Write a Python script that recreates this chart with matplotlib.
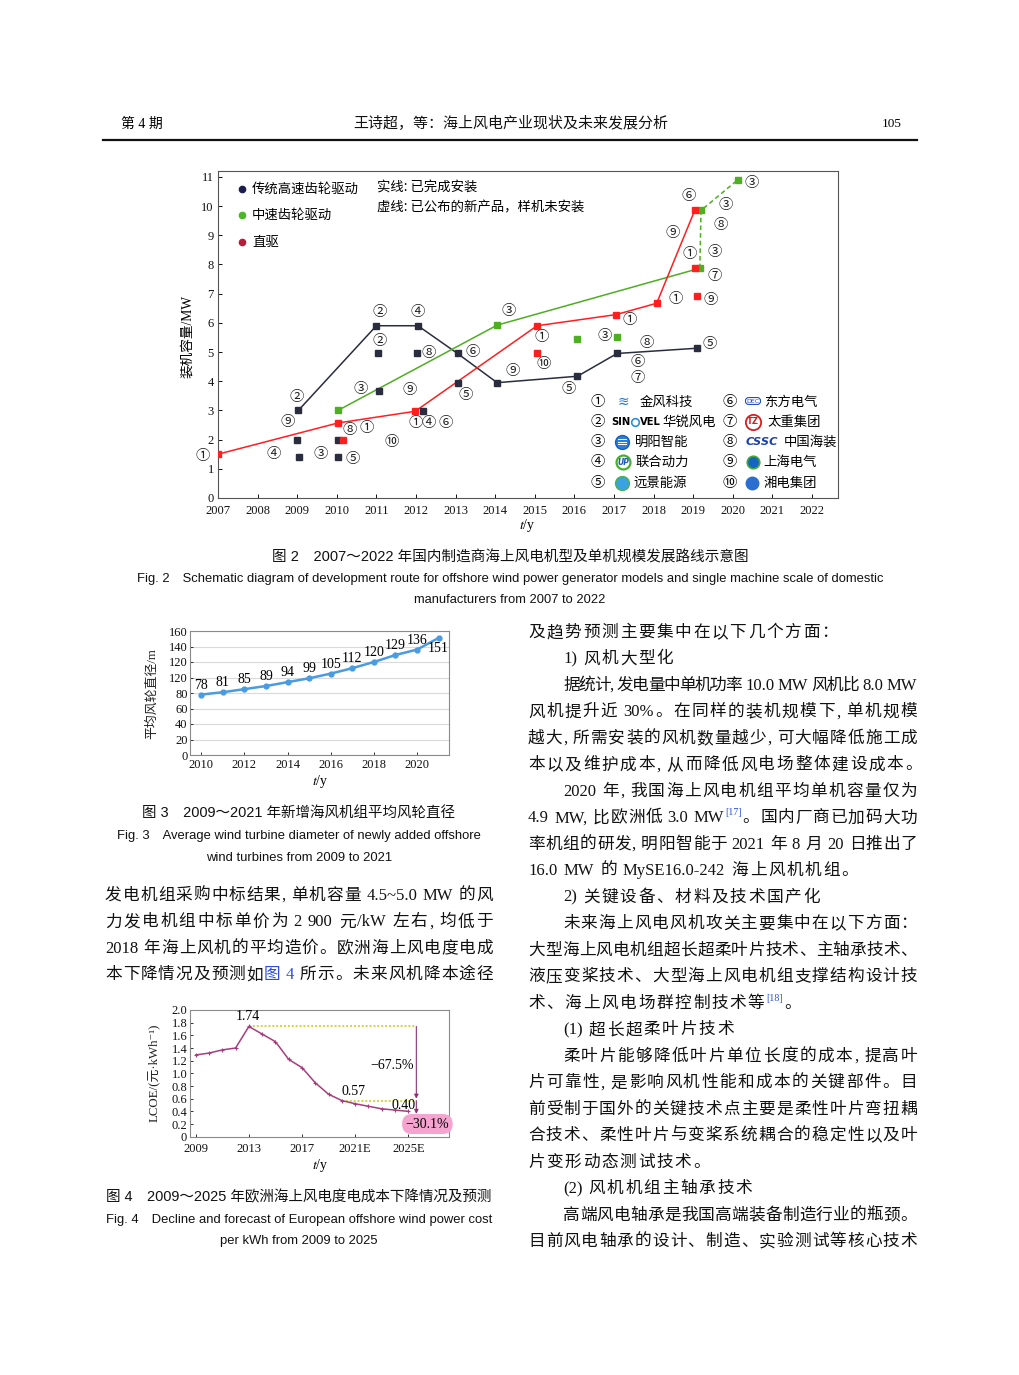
import matplotlib
matplotlib.use("Agg")
import matplotlib.pyplot as plt
from matplotlib import font_manager
from matplotlib.lines import Line2D

W, H = 1020, 1375
CJK = "Noto Sans CJK SC"
SERIF = ["Liberation Serif", CJK, "DejaVu Sans"]
SANS = ["Liberation Sans", CJK, "DejaVu Sans"]
CIRC = [CJK, "DejaVu Sans"]
try:
    font_manager.findfont(font_manager.FontProperties(family="Liberation Sans Narrow"),
                          fallback_to_default=False)
    NARROW = ["Liberation Sans Narrow", CJK]
except Exception:
    NARROW = SANS

plt.rcParams["font.family"] = SERIF
plt.rcParams["mathtext.fontset"] = "stix"

# ---------------- Fig. 2 data: unit rating (MW) by year ----------------
trad_line_year = [2009.03, 2011.0, 2012.05, 2013.05, 2014.05, 2016.08, 2017.08, 2019.1]
trad_line_mw = [3.0, 5.9, 5.9, 4.95, 3.95, 4.17, 4.95, 5.13]
trad_pts_year = [2009.0, 2009.05, 2010.03, 2010.03, 2011.05, 2011.06, 2012.03, 2012.18, 2013.05]
trad_pts_mw = [1.97, 1.42, 1.97, 1.42, 4.98, 3.68, 4.97, 2.97, 3.95]
mid_line_year = [2010.03, 2014.05, 2019.17]
mid_line_mw = [3.0, 5.92, 7.87]
mid_dash_year = [2019.17, 2019.2, 2020.13]
mid_dash_mw = [7.87, 9.85, 10.9]
mid_pts_year = [2016.08, 2017.07]
mid_pts_mw = [5.44, 5.5]
dd_line_year = [2007.0, 2010.03, 2011.98, 2015.06, 2017.05, 2018.08, 2019.05]
dd_line_mw = [1.5, 2.57, 2.97, 5.9, 6.28, 6.67, 9.88]
dd_pts_year = [2010.15, 2015.05, 2019.05, 2019.1]
dd_pts_mw = [1.97, 4.97, 7.89, 6.93]

# circled maker numbers beside the points
tag_year = [2006.62, 2008.41, 2008.98, 2008.76, 2009.60, 2010.39, 2010.33, 2010.75, 2011.39,
            2010.59, 2011.85, 2011.07, 2011.07, 2012.05, 2012.33, 2013.43, 2013.25, 2011.98,
            2012.32, 2012.74, 2014.34, 2014.44, 2015.17, 2015.22, 2015.86, 2016.77, 2017.40,
            2017.83, 2017.59, 2017.59, 2018.57, 2018.49, 2018.90, 2018.89, 2019.81, 2019.69,
            2019.54, 2019.54, 2019.44, 2019.43, 2020.49]
tag_mw = [1.45, 1.50, 3.46, 2.61, 1.50, 1.32, 2.34, 2.39, 1.91,
          3.73, 3.70, 6.37, 5.37, 6.37, 4.97, 4.99, 3.54, 2.57,
          2.57, 2.57, 6.42, 4.34, 5.51, 4.59, 3.75, 5.54, 6.09,
          5.32, 4.65, 4.10, 6.81, 9.06, 8.37, 10.34, 10.02, 9.36,
          8.41, 7.61, 6.79, 5.28, 10.78]
tag_num = [1, 4, 2, 9, 3, 5, 8, 1, 10,
           3, 9, 2, 2, 4, 8, 6, 5, 1,
           4, 6, 3, 9, 1, 10, 5, 3, 1,
           8, 6, 7, 1, 9, 1, 6, 3, 8,
           3, 7, 9, 5, 3]
CIRCLED = "①②③④⑤⑥⑦⑧⑨⑩"

drive_types = ["传统高速齿轮驱动", "中速齿轮驱动", "直驱"]
makers_left = ["金风科技", "华锐风电", "明阳智能", "联合动力", "远景能源"]
makers_right = ["东方电气", "太重集团", "中国海装", "上海电气", "湘电集团"]

# ---------------- Fig. 3 data: mean rotor diameter ----------------
dia_year = [2010, 2011, 2012, 2013, 2014, 2015, 2016, 2017, 2018, 2019, 2020, 2021]
dia_m = [78, 81, 85, 89, 94, 99, 105, 112, 120, 129, 136, 151]
dia_yticks = [0, 20, 40, 60, 80, 100, 120, 140, 160]
dia_yticklabels = ["0", "20", "40", "60", "80", "120", "120", "140", "160"]

# ---------------- Fig. 4 data: European offshore LCOE ----------------
lcoe_year = list(range(2009, 2026))
lcoe = [1.29, 1.32, 1.37, 1.40, 1.74, 1.62, 1.50, 1.22, 1.09, 0.85, 0.67,
        0.57, 0.52, 0.48, 0.44, 0.42, 0.40]
lcoe_xticks = [2009, 2013, 2017, 2021, 2025]
lcoe_xticklabels = ["2009", "2013", "2017", "2021E", "2025E"]

fig = plt.figure(figsize=(W / 100, H / 100), dpi=100)
renderer = fig.canvas.get_renderer()


def fx(x):
    return x / W


def fy(y):
    return 1 - y / H


def measure(s, family, size):
    prop = font_manager.FontProperties(family=family, size=size)
    w, h, d = renderer.get_text_width_height_descent(s, prop, ismath=False)
    return w


def fit_line(x0, x1, y, s, family, size, color="#111111"):
    w = measure(s, family, size)
    fig.text(fx((x0 + x1) / 2), fy(y), s, family=family, size=size * (x1 - x0) / w,
             ha="center", va="center", color=color)


def split_tokens(segments):
    toks = []
    pend = False
    for text, kind in segments:
        word, wsp = "", False
        for ch in text:
            if ch == " ":
                if word:
                    toks.append((word, kind, wsp))
                    word = ""
                pend = True
            elif ord(ch) < 0x2000 or kind == "s":
                if not word:
                    wsp, pend = pend, False
                word += ch
            else:
                if word:
                    toks.append((word, kind, wsp))
                    word = ""
                toks.append((ch, kind, pend))
                pend = False
        if word:
            toks.append((word, kind, wsp))
    return toks


def body_line(x0, x1, yc, segments, justify, size=12):
    if isinstance(segments, str):
        segments = [(segments, "n")]
    toks = split_tokens(segments)
    sizes = [size * 0.6 if k == "s" else size for _, k, _ in toks]
    widths = [measure(t, SERIF, s) for (t, _, _), s in zip(toks, sizes)]
    sp_w = 0.27 * size * 100 / 72
    natural = sum(widths) + sp_w * sum(1 for t in toks if t[2])
    extra = (x1 - x0 - natural) / (len(toks) - 1) if justify else 1.7
    x = x0
    base = yc + 6
    for (t, kind, sp), s, w in zip(toks, sizes, widths):
        if sp:
            x += sp_w
        color = "#2a4fd8" if kind in ("b", "s") else "#111111"
        yb = base - 7 if kind == "s" else base
        fig.text(fx(x), fy(yb), t, family=SERIF, size=s, ha="left", va="baseline", color=color)
        x += w + extra


# ---------------- page header ----------------
fig.text(fx(121), fy(124), "第 4 期", family=SERIF, size=10, ha="left", va="center")
fit_line(354, 668, 124, "王诗超，等：海上风电产业现状及未来发展分析", SERIF, 10)
fig.text(fx(902), fy(124), "105", family=SERIF, size=9.5, ha="right", va="center")
fig.add_artist(Line2D([fx(103), fx(917)], [fy(140), fy(140)], color="#111111", lw=1.6,
                      transform=fig.transFigure))

# ---------------- Fig. 2 ----------------
ax = fig.add_axes([fx(218), fy(498), (838 - 218) / W, (498 - 171) / H])
ax.set_xlim(2007, 2022.66)
ax.set_ylim(0, 11.2)
c_trad, c_mid, c_dd = "#2a2d3e", "#4fae22", "#ff1f1f"
ax.plot(trad_line_year, trad_line_mw, color=c_trad, lw=1.1, zorder=2)
ax.plot(mid_line_year, mid_line_mw, color=c_mid, lw=1.1, zorder=2)
ax.plot(mid_dash_year, mid_dash_mw, color=c_mid, lw=1.1, ls=(0, (3, 2)), zorder=2)
ax.plot(dd_line_year, dd_line_mw, color=c_dd, lw=1.1, zorder=2)
ms = 5
ax.plot(trad_line_year, trad_line_mw, "s", color=c_trad, ms=ms, zorder=3)
ax.plot(trad_pts_year, trad_pts_mw, "s", color=c_trad, ms=ms, zorder=3)
ax.plot(mid_line_year, mid_line_mw, "s", color=c_mid, ms=ms, zorder=3)
ax.plot(mid_dash_year[1:], mid_dash_mw[1:], "s", color=c_mid, ms=ms, zorder=3)
ax.plot(mid_pts_year, mid_pts_mw, "s", color=c_mid, ms=ms, zorder=3)
ax.plot(dd_line_year, dd_line_mw, "s", color=c_dd, ms=ms, zorder=4)
ax.plot(dd_pts_year, dd_pts_mw, "s", color=c_dd, ms=ms, zorder=4)
for yr, mw, n in zip(tag_year, tag_mw, tag_num):
    ax.text(yr, mw, CIRCLED[n - 1], family=CIRC, size=10.3, ha="center", va="center",
            color="#222222", clip_on=False)

ax.set_xticks(range(2007, 2023))
ax.set_yticks(range(0, 12))
ax.tick_params(direction="in", length=3, width=0.7, labelsize=9, pad=3, colors="#111111")
ax.tick_params(axis="x", pad=5)
for sp in ax.spines.values():
    sp.set_color("#555555")
    sp.set_linewidth(0.8)

legend_colors = ["#1b1d4a", "#4cb52a", "#b3203c"]
for i, (name, c) in enumerate(zip(drive_types, legend_colors)):
    yy = [188.5, 214.5, 241.5][i]
    ax.plot([(242 - 218) / 620], [(498 - yy) / 327], "o", color=c, ms=4.5,
            transform=ax.transAxes, clip_on=False)
    ax.text((252 - 218) / 620, (498 - yy) / 327, name, family=[CJK], size=9.6,
            ha="left", va="center", transform=ax.transAxes)
ax.text((377 - 218) / 620, (498 - 188) / 327, "实线: 已完成安装", family=[CJK], size=9.6,
        ha="left", va="center", transform=ax.transAxes)
ax.text((377 - 218) / 620, (498 - 207) / 327, "虚线: 已公布的新产品，样机未安装", family=[CJK],
        size=9.6, ha="left", va="center", transform=ax.transAxes)

row_y = [402, 422, 442, 462, 483]
name_x_left = [640, 662, 635, 636, 633]
name_x_right = [764, 767, 784, 763, 763]
for i in range(5):
    fig.text(fx(598), fy(row_y[i]), CIRCLED[i], family=CIRC, size=10.3, ha="center", va="center")
    fig.text(fx(name_x_left[i]), fy(row_y[i]), makers_left[i], family=[CJK], size=9.6,
             ha="left", va="center")
    fig.text(fx(730), fy(row_y[i]), CIRCLED[i + 5], family=CIRC, size=10.3, ha="center", va="center")
    fig.text(fx(name_x_right[i]), fy(row_y[i]), makers_right[i], family=[CJK], size=9.6,
             ha="left", va="center")


def icon(x, y, **kw):
    fig.add_artist(Line2D([fx(x)], [fy(y)], transform=fig.transFigure, **kw))


fig.text(fx(623), fy(402), "≋", family=["DejaVu Sans"], size=10, color="#2f7ad6",
         ha="center", va="center", style="italic")
fig.text(fx(611), fy(422), "SIN", family=["DejaVu Sans"], size=7.2, weight="bold",
         ha="left", va="center")
icon(635, 422, marker="o", ms=5.5, mfc="white", mec="#2d8fe0", mew=1.2)
fig.text(fx(640), fy(422), "VEL", family=["DejaVu Sans"], size=7.2, weight="bold",
         ha="left", va="center")
icon(622, 441.5, marker="o", ms=10, mfc="#2d7fd6", mec="#1a5fb8")
for dy in (-2.5, 0, 2.5):
    fig.add_artist(Line2D([fx(618), fx(626)], [fy(441.5 + dy), fy(441.5 + dy)], color="white",
                          lw=0.7, transform=fig.transFigure))
icon(623, 462, marker="o", ms=10, mfc="white", mec="#46b02c", mew=1.6)
fig.text(fx(623), fy(462), "UP", family=["DejaVu Sans"], size=5.5, weight="bold",
         style="italic", color="#1a55c0", ha="center", va="center")
icon(622, 483, marker="o", ms=10, mfc="#3aa2e2", mec="#49b24a", mew=1.0)
fig.text(fx(753), fy(401), "DEC", family=["DejaVu Sans"], size=4.5, color="#1f4fc0",
         ha="center", va="center",
         bbox=dict(boxstyle="round,pad=0.15,rounding_size=0.5", fc="white", ec="#1f4fc0", lw=0.8))
icon(753, 422, marker="o", ms=11, mfc="white", mec="#d42020", mew=1.3)
fig.text(fx(753), fy(422), "TZ", family=["DejaVu Sans"], size=6, weight="bold",
         color="#d42020", ha="center", va="center")
fig.text(fx(746), fy(442), "CSSC", family=["DejaVu Sans"], size=8.2, weight="bold",
         style="italic", color="#1a3fb0", ha="left", va="center")
icon(753, 462, marker="o", ms=9, mfc="#1565c0", mec="#44aa33", mew=1.2)
icon(752, 483, marker="o", ms=9, mfc="#2a6fd0", mec="#2a6fd0")

fig.text(fx(188), fy(336), "装机容量/MW", family=SERIF, size=9.8, rotation=90,
         ha="center", va="center")
fig.text(fx(527), fy(526), "$t$/y", family=SERIF, size=10, ha="center", va="center")

fit_line(272, 748, 557, "图 2　2007～2022 年国内制造商海上风电机型及单机规模发展路线示意图", SANS, 10.5)
fit_line(136, 885, 579, "Fig. 2　Schematic diagram of development route for offshore wind power "
         "generator models and single machine scale of domestic", NARROW, 10)
fit_line(414, 606, 600, "manufacturers from 2007 to 2022", NARROW, 10)

# ---------------- Fig. 3 ----------------
ax3 = fig.add_axes([fx(190.5), fy(755), (448.5 - 190.5) / W, (755 - 631) / H])
ax3.set_xlim(2009.5, 2021.46)
ax3.set_ylim(0, 160)
ax3.set_yticks(dia_yticks)
ax3.set_yticklabels(dia_yticklabels)
ax3.set_xticks(range(2010, 2021, 2))
ax3.grid(axis="y", color="#d9d9d9", lw=0.8)
ax3.set_axisbelow(True)
ax3.plot(dia_year, dia_m, color="#4a9be0", lw=1.8, marker="o", ms=3.5, zorder=3)
for i, (yr, d) in enumerate(zip(dia_year, dia_m)):
    off = -11 if i == len(dia_m) - 1 else 9.5
    ax3.annotate(str(d), (yr, d), xytext=(0, off * 0.72), textcoords="offset points",
                 ha="center", va="center", size=10, family=SERIF)
ax3.tick_params(direction="in", length=2.5, width=0.6, labelsize=9, pad=2, colors="#111111")
ax3.tick_params(axis="x", pad=3)
for sp in ax3.spines.values():
    sp.set_color("#8a8a8a")
    sp.set_linewidth(0.8)
fig.text(fx(152), fy(694), "平均风轮直径/m", family=SERIF, size=9.3, rotation=90,
         ha="center", va="center", color="#222222")
fig.text(fx(320), fy(782), "$t$/y", family=SERIF, size=10, ha="center", va="center")

fit_line(142, 456, 813, "图 3　2009～2021 年新增海风机组平均风轮直径", SANS, 10.5)
fit_line(116, 481, 836, "Fig. 3　Average wind turbine diameter of newly added offshore", NARROW, 10)
fit_line(206, 392, 858, "wind turbines from 2009 to 2021", NARROW, 10)

# ---------------- left column text ----------------
left_lines = [
    "发电机组采购中标结果, 单机容量 4.5~5.0 MW 的风",
    "力发电机组中标单价为 2 900 元/kW 左右, 均低于",
    "2018 年海上风机的平均造价。欧洲海上风电度电成",
    [("本下降情况及预测如", "n"), ("图 4", "b"), (" 所示。未来风机降本途径", "n")],
]
for i, ln in enumerate(left_lines):
    body_line(105, 493, 894 + 26.4 * i, ln, True)

# ---------------- Fig. 4 ----------------
ax4 = fig.add_axes([fx(190), fy(1136.7), (449.3 - 190) / W, (1136.7 - 1010) / H])
ax4.set_xlim(2008.57, 2028.08)
ax4.set_ylim(0, 2.0)
ax4.plot(lcoe_year, lcoe, color="#a63e7c", lw=1.1, marker="+", ms=3.5, mew=0.8, zorder=3)
i_peak = lcoe.index(max(lcoe))
i_mid = lcoe_year.index(2020)
arr_x = 2025.6
ax4.plot([lcoe_year[i_peak], arr_x], [lcoe[i_peak], lcoe[i_peak]], color="#cfd63a", lw=1.4,
         ls=(0, (1, 1)), zorder=2)
ax4.plot([lcoe_year[i_mid], arr_x], [lcoe[i_mid], lcoe[i_mid]], color="#cfd63a", lw=1.4,
         ls=(0, (1, 1)), zorder=2)
ap = dict(arrowstyle="-|>", color="#8a3470", lw=0.8, mutation_scale=6, shrinkA=0, shrinkB=0)
ax4.annotate("", xy=(arr_x, lcoe[i_mid] + 0.03), xytext=(arr_x, lcoe[i_peak]), arrowprops=ap)
ax4.annotate("", xy=(arr_x, lcoe[-1] - 0.04), xytext=(arr_x, lcoe[i_mid]), arrowprops=ap)
ax4.text(2012.96, 1.895, f"{lcoe[i_peak]:.2f}", size=10, ha="center", va="center")
ax4.text(2023.79, 1.13, "−67.5%", size=10, ha="center", va="center")
ax4.text(2020.86, 0.71, f"{lcoe[i_mid]:.2f}", size=10, ha="center", va="center")
ax4.text(2024.62, 0.50, f"{lcoe[-1]:.2f}", size=10, ha="center", va="center")
ax4.text(2026.43, 0.20, "−30.1%", size=10, ha="center", va="center", clip_on=False,
         bbox=dict(boxstyle="round,pad=0.25,rounding_size=0.7", fc="#f5a3cf", ec="none"))
ax4.set_xticks(lcoe_xticks)
ax4.set_xticklabels(lcoe_xticklabels)
ax4.set_yticks([k / 10 for k in range(0, 21, 2)])
ax4.set_yticklabels(["0"] + [f"{k / 10:.1f}" for k in range(2, 21, 2)])
ax4.tick_params(direction="in", length=2.5, width=0.6, labelsize=9, pad=2, colors="#111111")
ax4.tick_params(axis="x", pad=4.5)
for sp in ax4.spines.values():
    sp.set_color("#8a8a8a")
    sp.set_linewidth(0.8)
fig.text(fx(155), fy(1073), "LCOE/(元·kWh⁻¹)", family=SERIF, size=9.3, rotation=90,
         ha="center", va="center", color="#222222")
fig.text(fx(320), fy(1165), "$t$/y", family=SERIF, size=10, ha="center", va="center")

fit_line(105, 493, 1197, "图 4　2009～2025 年欧洲海上风电度电成本下降情况及预测", SANS, 10.5)
fit_line(105, 493, 1220, "Fig. 4　Decline and forecast of European offshore wind power cost", NARROW, 10)
fit_line(220, 378, 1241, "per kWh from 2009 to 2025", NARROW, 10)

# ---------------- right column text ----------------
R0, R1, IND = 528, 917, 563
right_lines = [
    (R0, "及趋势预测主要集中在以下几个方面：", False),
    (IND, "1) 风机大型化", False),
    (IND, "据统计, 发电量中单机功率 10.0 MW 风机比 8.0 MW", True),
    (R0, "风机提升近 30%。在同样的装机规模下, 单机规模", True),
    (R0, "越大, 所需安装的风机数量越少, 可大幅降低施工成", True),
    (R0, "本以及维护成本, 从而降低风电场整体建设成本。", False),
    (IND, "2020 年, 我国海上风电机组平均单机容量仅为", True),
    (R0, [("4.9 MW, 比欧洲低 3.0 MW", "n"), ("[17]", "s"), ("。国内厂商已加码大功", "n")], True),
    (R0, "率机组的研发, 明阳智能于 2021 年 8 月 20 日推出了", True),
    (R0, "16.0 MW 的 MySE16.0-242 海上风机机组。", False),
    (IND, "2) 关键设备、材料及技术国产化", False),
    (IND, "未来海上风电风机攻关主要集中在以下方面：", True),
    (R0, "大型海上风电机组超长超柔叶片技术、主轴承技术、", True),
    (R0, "液压变桨技术、大型海上风电机组支撑结构设计技", True),
    (R0, [("术、海上风电场群控制技术等", "n"), ("[18]", "s"), ("。", "n")], False),
    (IND, "(1) 超长超柔叶片技术", False),
    (IND, "柔叶片能够降低叶片单位长度的成本, 提高叶", True),
    (R0, "片可靠性, 是影响风机性能和成本的关键部件。目", True),
    (R0, "前受制于国外的关键技术点主要是柔性叶片弯扭耦", True),
    (R0, "合技术、柔性叶片与变桨系统耦合的稳定性以及叶", True),
    (R0, "片变形动态测试技术。", False),
    (IND, "(2) 风机机组主轴承技术", False),
    (IND, "高端风电轴承是我国高端装备制造行业的瓶颈。", True),
    (R0, "目前风电轴承的设计、制造、实验测试等核心技术", True),
]
for i, (x0, ln, just) in enumerate(right_lines):
    body_line(x0, R1, 631 + 26.48 * i, ln, just)

fig.savefig("out.png", dpi=100)
